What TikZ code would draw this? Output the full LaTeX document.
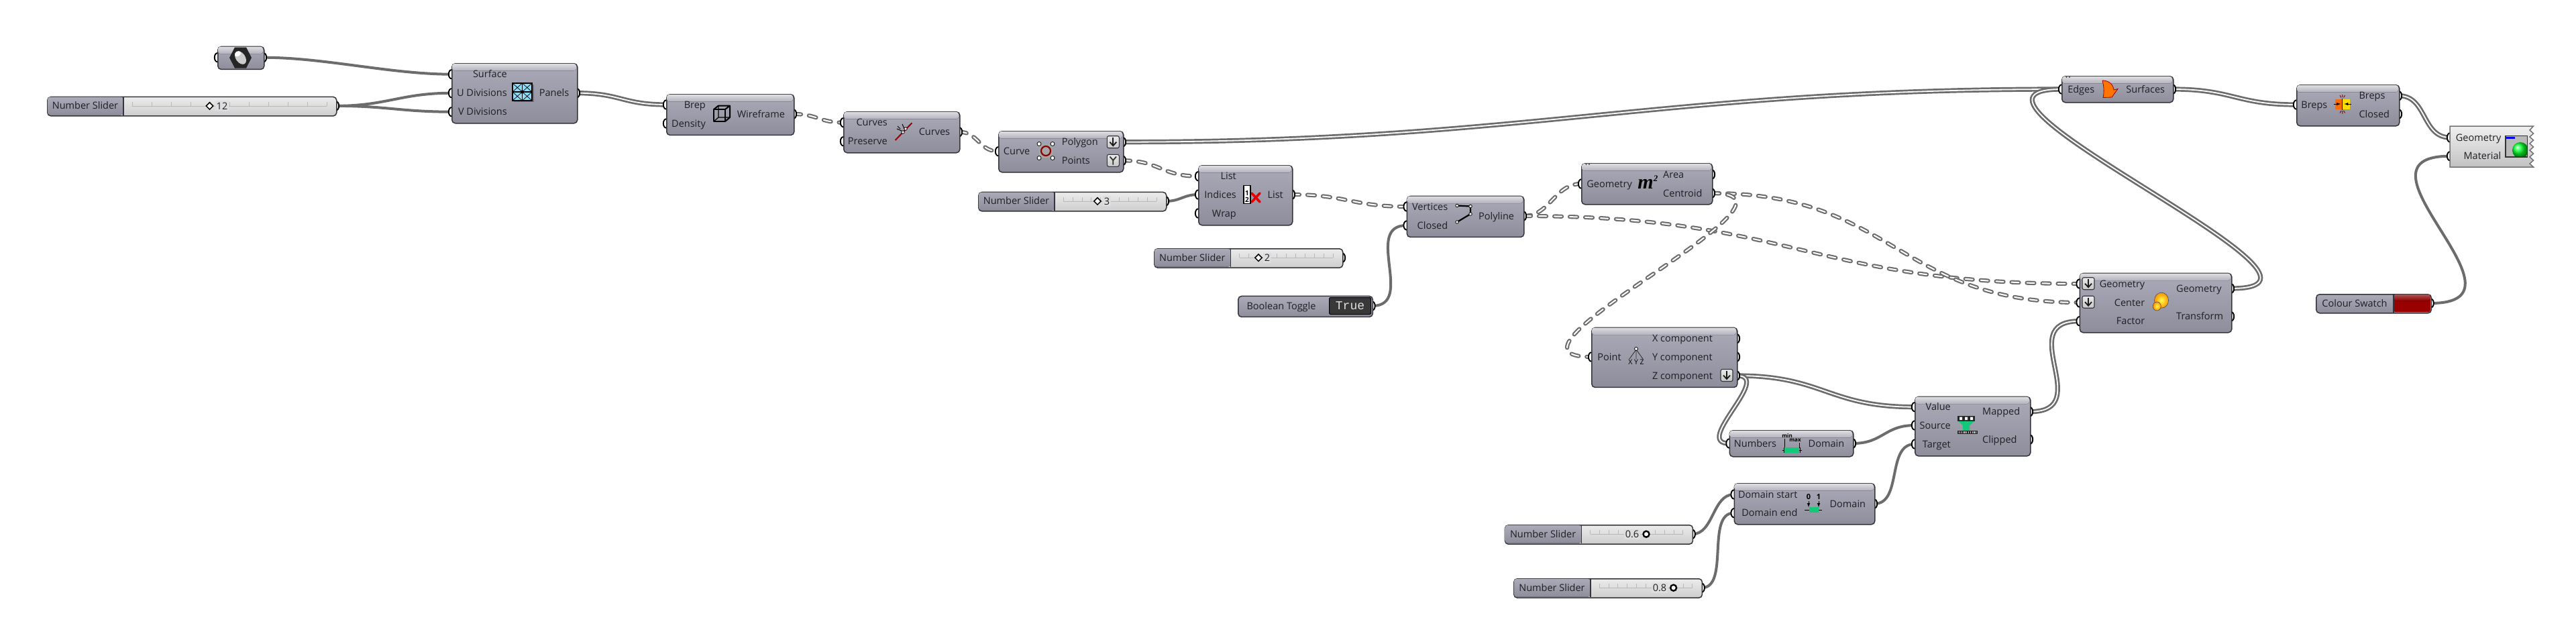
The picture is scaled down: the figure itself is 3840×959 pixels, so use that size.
\documentclass[tikz,border=0pt]{standalone}
\usepackage{fontspec}
\setmainfont{Open Sans}
\newfontfamily\mathicon{Liberation Serif}
\newfontfamily\togglefont{Liberation Mono}
\usetikzlibrary{shapes.geometric}
\pgfdeclarelayer{wirelayer}
\pgfsetlayers{wirelayer,main}
\definecolor{wirec}{HTML}{6C6C6C}
\definecolor{bodyA}{HTML}{ABAAB8}
\definecolor{bodyB}{HTML}{8E8D9B}
\definecolor{hdA}{HTML}{DEDEE2}
\definecolor{hdB}{HTML}{B2B1BD}
\definecolor{edgec}{HTML}{35353B}
\definecolor{txtc}{HTML}{1E1E24}
\definecolor{slA}{HTML}{ECECEC}
\definecolor{slB}{HTML}{CDCDCD}
\definecolor{slM}{HTML}{DEDEDE}
\definecolor{gbar}{HTML}{14C87A}
\tikzset{
 gbody/.style={draw=edgec,line width=1.5pt,rounded corners=5pt,top color=bodyA,bottom color=bodyB,inner sep=0pt,anchor=north west},
 itemwire/.style={draw=wirec,line width=4pt},
 listwire/.style={draw=wirec,line width=2.7pt,double=white,double distance=1.8pt},
 treewire/.style={draw=wirec,line width=2.1pt,double=white,double distance=2pt,dash pattern=on 11pt off 12pt,line cap=round},
 gport/.style={draw=black,line width=1.9pt,fill=white},
 txtbase/.style={font=\fontsize{14.5}{16}\selectfont,text=txtc,inner sep=0pt},
 gdia/.style={diamond,draw=black,line width=1.5pt,fill=white,minimum size=11pt,inner sep=0pt},
 gcir/.style={circle,draw=black,line width=2.4pt,fill=white,minimum size=9pt,inner sep=0pt},
 gnode/.style={circle,draw=black,line width=.8pt,fill=white,minimum size=5pt,inner sep=0pt},
 gbtn/.style={draw=edgec,line width=1.1pt,rounded corners=2.5pt,top color=white!92!black,bottom color=white!78!black},
 icontext/.style={font=\fontsize{8}{9}\bfseries\selectfont,text=black,inner sep=0pt},
}
\newcount\lcnt
\newcommand{\lin}[3]{\global\advance\lcnt by 1 \node[txtbase,anchor=base east] (t\the\lcnt) at (#1,{#2+5}) {#3};}
\newcommand{\lou}[3]{\global\advance\lcnt by 1 \node[txtbase,anchor=base west] (t\the\lcnt) at (#1,{#2+5}) {#3};}
\newcommand{\lmid}[3]{\global\advance\lcnt by 1 \node[txtbase,anchor=base] (t\the\lcnt) at (#1,{#2+5}) {#3};}
\newcommand{\port}[3]{\coordinate (#1) at (#2,#3); \draw[gport] (#2,#3) ellipse [x radius=4.2pt,y radius=6.6pt];}
\newcommand{\comp}[5]{%
 \pgfmathsetmacro\cw{#4-#2}\pgfmathsetmacro\ch{#5-#3}%
 \node[gbody,minimum width=\cw pt,minimum height=\ch pt] (#1) at (#2,#3) {};
 \fill[top color=hdA,bottom color=hdB,rounded corners=4pt] ({#2+.8},{#3+11.5}) |- ({#4-.8},{#3+.8}) -- ({#4-.8},{#3+11.5}) -- cycle;
}
\newcommand{\gslider}[9]{% name x1 y1 x2 split gripx textx value gripstyle
 \pgfmathsetmacro\cw{#4-#2}\pgfmathsetmacro\ymid{#3+14.2}\pgfmathsetmacro\yend{#3+28.4}%
 \pgfmathsetmacro\railA{#5+13}\pgfmathsetmacro\railB{#4-14}\pgfmathsetmacro\railS{(\railB-\railA)/10}%
 \port{#1}{#4}{\ymid}
 \node[draw=edgec,line width=1.5pt,rounded corners=5pt,top color=slA,bottom color=slB,inner sep=0pt,anchor=north west,minimum width=\cw pt,minimum height=28.4pt] (#1b) at (#2,#3) {};
 \fill[top color=bodyA,bottom color=bodyB,rounded corners=4pt] (#5,{#3+.8}) -| ({#2+.8},{\yend-.8}) -- (#5,{\yend-.8}) -- cycle;
 \draw[edgec,line width=1.1pt] (#5,#3) -- (#5,\yend);
 \lmid{{(#2+#5)/2}}{\ymid}{Number Slider}
 \draw[gray!55,line width=.6pt] (\railA,\ymid) -- (\railB,\ymid);
 \foreach \k in {0,...,10} {\draw[gray!55,line width=.6pt] ({\railA+\k*\railS},\ymid) -- ++(0,-6);}
 \node[txtbase,fill=slM,inner xsep=2pt,minimum height=15pt,anchor=center] (#1v) at (#7,\ymid) {#8};
 \node[#9] (#1g) at (#6,\ymid) {};
}
\newcommand{\gdown}[2]{%
 \draw[gbtn] ({#1-9},{#2-9}) rectangle ({#1+9},{#2+9});
 \draw[gray!20!black,line width=1.8pt] (#1,{#2-6.5}) -- (#1,{#2+5});
 \draw[gray!20!black,line width=1.8pt] ({#1-5},{#2}) -- (#1,{#2+5.5}) -- ({#1+5},{#2});
}
\newcommand{\wire}[4]{\draw[#1] (#2) .. controls +(#4,0) and +(-#4,0) .. (#3);}
\begin{document}
\begin{tikzpicture}[x=1pt,y=-1pt]
\useasboundingbox (0,0) rectangle (3840,959);

% Geometry parameter
\port{hexi}{324}{85.7}\port{hexo}{393}{85.7}
\comp{hex}{324}{68.7}{393}{102.7}
\fill[black!85] (342,86) -- (350,70.5) -- (367,70.5) -- (375,86) -- (367,101.5) -- (350,101.5) -- cycle;
\fill[white!80!black,rotate around={35:(358.5,86)}] (358.5,86) ellipse [x radius=7pt,y radius=11pt];
\fill[white,rotate around={35:(358.5,86)}] (358.5,79) ellipse [x radius=5pt,y radius=3.5pt];

% Slider 12
\gslider{sa}{70}{143.7}{501}{184}{312.5}{331}{12}{gdia}

% Panels
\port{pnS}{673}{110.7}\port{pnU}{673}{138.7}\port{pnV}{673}{166.7}\port{pnO}{860}{138.7}
\comp{panels}{673}{94}{860}{183}
\lin{756}{110.7}{Surface}\lin{756}{138.7}{U Divisions}\lin{756}{166.7}{V Divisions}\lou{803.6}{138.7}{Panels}
\fill[black,opacity=.25] (766,126) rectangle (796,152);
\fill[cyan!45!white] (764,124) rectangle (793,150);
\draw[black,line width=1.3pt] (764,124) rectangle (793,150) (778.5,124) -- (778.5,150) (764,137) -- (793,137);
\draw[black,line width=.7pt] (764,124) -- (778.5,137) (764,137) -- (778.5,124) (778.5,124) -- (793,137) (778.5,137) -- (793,124) (764,137) -- (778.5,150) (764,150) -- (778.5,137) (778.5,137) -- (793,150) (778.5,150) -- (793,137);
\fill[black] (778.5,137) circle (2.6pt);

% Wireframe
\port{wfB}{993}{156}\port{wfD}{993}{184}\port{wfO}{1183}{170}
\comp{wire}{993}{140}{1183}{200.7}
\lin{1052}{156}{Brep}\lin{1052}{184}{Density}\lou{1098.6}{170}{Wireframe}
\draw[black,line width=2pt,line join=round] (1064,163) rectangle (1081,181);
\draw[black,line width=2pt,line join=round] (1064,163) -- (1071,157.5) -- (1088,157.5) -- (1081,163) (1088,157.5) -- (1088,175) -- (1081,181);
\draw[black,line width=1.2pt] (1071,157.5) -- (1071,175) -- (1088,175) (1071,175) -- (1064,181);

% Reduce curves
\port{cvC}{1257}{182.7}\port{cvP}{1257}{210.7}\port{cvO}{1430}{196.7}
\comp{reduce}{1257}{166}{1430}{227}
\lin{1323}{182.7}{Curves}\lin{1323}{210.7}{Preserve}\lou{1369.6}{196.7}{Curves}
\draw[red!60!black,line width=2pt] (1334.6,209) -- (1359.4,183.3);
\draw[black,line width=1pt] (1337,192) -- (1344,195) (1345,185) -- (1348,192) (1338,188) -- (1342,192);
\node[gnode,minimum size=4.5pt] (rdA) at (1346,197) {};
\node[gnode,minimum size=4.5pt] (rdB) at (1350,192) {};

% Control polygon
\port{pgC}{1488}{225.7}\port{pgP}{1674}{211.7}\port{pgQ}{1674}{239.3}
\comp{polyg}{1488}{195}{1674}{256}
\lin{1535.5}{225.7}{Curve}\lou{1582.6}{211.7}{Polygon}\lou{1582.6}{239.3}{Points}
\fill[gray!70] (1549,215) rectangle (1569,235);
\draw[red!55!black,line width=2.2pt] (1559,225) circle (7pt);
\foreach \px/\py [count=\pi] in {1549/214.5,1569/214.5,1549/235.5,1569/235.5}{\node[gnode,minimum size=6pt] (pgn\pi) at (\px,\py) {};}
\gdown{1659.3}{211.7}
\draw[gbtn] (1650.3,230.3) rectangle (1668.3,248.3);
\draw[gray!40!black,line width=1.8pt] (1654.5,233.5) -- (1659.3,239) -- (1664,233.5) (1659.3,239) -- (1659.3,245.5);

% Slider 3
\gslider{sb}{1458}{285.7}{1738}{1572}{1636}{1650}{3}{gdia}

% List item
\port{liL}{1786}{262.7}\port{liI}{1786}{290}\port{liW}{1786}{318}\port{liO}{1926}{290}
\comp{listitem}{1786}{246}{1926}{335}
\lin{1843}{262.7}{List}\lin{1843}{290}{Indices}\lin{1843}{318}{Wrap}\lou{1889.4}{290}{List}
\draw[black,fill=white,line width=1.2pt] (1854,276.5) rectangle (1864,303.5);
\node[icontext,font=\fontsize{10}{10}\bfseries\selectfont] (li1) at (1859,288) {1};
\node[icontext,font=\fontsize{10}{10}\bfseries\selectfont] (li2) at (1859,297.5) {2};
\draw[red!90!black,line width=3.6pt,line cap=round] (1866,288) -- (1878,301) (1878,288) -- (1866,301);

% Slider 2
\gslider{sc}{1720}{370}{2001}{1834.6}{1876}{1889}{2}{gdia}

% Boolean toggle
\port{btO}{2045.5}{456}
\node[gbody,minimum width=200.5pt,minimum height=31pt] (toggle) at (1845,440.7) {};
\lmid{1910}{456}{Boolean Toggle}
\node[draw=black,line width=1pt,rounded corners=2pt,fill=black!78,minimum width=62pt,minimum height=25pt,inner sep=0pt,text=white!88!black,font=\togglefont\fontsize{18}{18}\selectfont] (toggleval) at (2012.5,456) {True};

% Polyline
\port{plV}{2096.6}{308}\port{plC}{2096.6}{336}\port{plO}{2271}{322}
\comp{polyl}{2096.6}{291.7}{2271}{352.7}
\lin{2158.4}{308}{Vertices}\lin{2158.4}{336}{Closed}\lou{2204}{322}{Polyline}
\draw[black,line width=2.2pt] (2172,306.5) -- (2192,307.5) -- (2192,319) -- (2172,331);
\foreach \px/\py [count=\pi] in {2172/306.5,2192/307.5,2192/319,2172/331}{\node[gnode,minimum size=4.5pt] (pln\pi) at (\px,\py) {};}

% Area
\port{arG}{2357}{274}\port{arA}{2552}{260}\port{arC}{2552}{288}
\comp{area}{2357}{243}{2552}{304}
\lin{2433}{274}{Geometry}\lou{2479}{260}{Area}\lou{2479}{288}{Centroid}
\node[inner sep=0pt,text=black,font=\mathicon\fontsize{30}{30}\bfseries\itshape\selectfont] (arm) at (2453,274) {m};
\node[inner sep=0pt,text=black,font=\mathicon\fontsize{13}{13}\bfseries\itshape\selectfont] (arm2) at (2468,266) {2};
\fill[black!70] (2364.5,245) circle (1.2pt) (2369,245) circle (1.2pt);

% Deconstruct
\port{dcP}{2372}{532}\port{dcX}{2589}{504.7}\port{dcY}{2589}{532}\port{dcZ}{2589}{560}
\comp{decon}{2372}{487.7}{2589}{576.7}
\lin{2416.8}{532}{Point}\lou{2462.8}{504.7}{X component}\lou{2462.8}{532}{Y component}\lou{2462.8}{560}{Z component}
\draw[black!80,line width=.9pt] (2439,521) -- (2429,535) (2439,521) -- (2439,535) (2439,521) -- (2449,535);
\node[gnode,minimum size=5pt] (dcn) at (2439,520) {};
\node[inner sep=0pt,text=black,font=\fontsize{10.5}{11}\selectfont] (dcxyz) at (2439,540) {X Y Z};
\gdown{2574}{559.5}

% Remap
\port{rmV}{2854}{606.7}\port{rmS}{2854}{634}\port{rmT}{2854}{662}\port{rmM}{3026}{613.7}\port{rmC}{3026}{655}
\comp{remap}{2854}{590.7}{3026}{679}
\lin{2908}{606.7}{Value}\lin{2908}{634}{Source}\lin{2908}{662}{Target}\lou{2955}{613.7}{Mapped}\lou{2955}{655}{Clipped}
\fill[gbar] (2918,627) -- (2944,627) -- (2936,634) -- (2936,642) -- (2926,642) -- (2926,634) -- cycle;
\fill[black!85] (2918,620) rectangle (2944,627.5);
\fill[white] (2921,621.5) rectangle (2925,626) (2929,621.5) rectangle (2933,626) (2937,621.5) rectangle (2941,626);
\fill[black!85] (2918,641.7) rectangle (2948,647);
\foreach \k in {0,...,9}{\fill[white!80!black] ({2920+\k*2.8},643) rectangle ++(1.2,2.8);}

% Bounds
\port{bdN}{2577.5}{661}\port{bdO}{2762}{661}
\comp{bounds}{2577.5}{641}{2762}{680}
\lin{2648.3}{661}{Numbers}\lou{2695.5}{661}{Domain}
\node[icontext] (bdmin) at (2664,649) {min};
\node[icontext] (bdmax) at (2676,656) {max};
\draw[black,line width=.9pt] (2660,654) -- (2660,668) (2682,660) -- (2682,668) (2656.5,671) -- (2685.5,671);
\fill[gbar] (2660,667) rectangle (2682,674.5);
\draw[black,line width=1pt] (2659,667) -- (2659,675) (2683,667) -- (2683,675);

% Construct domain
\port{cdS}{2584.6}{737}\port{cdE}{2584.6}{764.7}\port{cdO}{2794}{751}
\comp{domain}{2584.6}{720}{2794}{781}
\lin{2679.6}{737}{Domain start}\lin{2679.6}{764.7}{Domain end}\lou{2727.4}{751}{Domain}
\node[icontext,font=\fontsize{11}{11}\bfseries\selectfont] (cd0) at (2696,741) {0};
\node[icontext,font=\fontsize{11}{11}\bfseries\selectfont] (cd1) at (2711,741) {1};
\draw[black,line width=1pt,-latex] (2696,747) -- (2696,756);
\draw[black,line width=1pt,-latex] (2711,747) -- (2711,756);
\draw[black,line width=1pt] (2690,760) -- (2716,760);
\fill[gbar] (2697,756) rectangle (2711,764);

% Sliders 0.6, 0.8
\gslider{sd}{2242.7}{782}{2522.7}{2357.5}{2454}{2433}{0.6}{gcir}
\gslider{se}{2256}{862}{2536.7}{2371}{2494.6}{2474}{0.8}{gcir}

% Boundary surfaces
\port{bsE}{3073}{133}\port{bsO}{3239}{133}
\comp{bsurf}{3073}{113}{3239}{152}
\lin{3122.4}{133}{Edges}\lou{3169.2}{133}{Surfaces}
\fill[orange!90!red,draw=red!60!black,line width=.8pt] (3134,120) .. controls (3144,120) and (3150,126) .. (3151,134) -- (3157,132.5) -- (3148,145) -- (3135,145.5) .. controls (3137,136) and (3136,128) .. (3134,120);
\fill[black!70] (3080.5,115) circle (1.2pt) (3085,115) circle (1.2pt);

% Cap holes
\port{chI}{3423}{156}\port{chB}{3576}{142.7}\port{chC}{3576}{170}
\comp{cap}{3423}{126}{3576}{187}
\lin{3469.5}{156}{Breps}\lou{3516.3}{142.7}{Breps}\lou{3516.3}{170}{Closed}
\fill[orange!85!red] (3480.5,148) rectangle (3491.5,162.5);
\fill[yellow!80!orange] (3492,148) rectangle (3503,162.5);
\draw[black,line width=1.1pt] (3491.8,147) -- (3491.8,163.5);
\draw[black,line width=1pt,-latex] (3479,155) -- (3489,155);
\draw[black,line width=1pt,-latex] (3505,155) -- (3494.5,155);
\draw[red!50!black,line width=.9pt] (3491.8,141) -- (3491.8,145) (3488,142) -- (3490,145.5) (3495.6,142) -- (3493.6,145.5) (3491.8,165) -- (3491.8,169.5) (3488,168.5) -- (3490,165) (3495.6,168.5) -- (3493.6,165);

% Custom preview
\port{cpG}{3652}{205}\port{cpM}{3652}{232.7}
\draw[draw=edgec!70,line width=1.5pt,top color=white!94!black,bottom color=white!76!black,rounded corners=2pt] (3652,191) -- (3652,245.5) [rounded corners=0pt] -- (3652,249) -- (3776.5,249) -- (3771,244) -- (3776.5,239) -- (3771,234) -- (3776.5,229) -- (3771,224) -- (3776.5,219) -- (3771,214) -- (3776.5,209) -- (3771,204) -- (3776.5,199) -- (3771,194) -- (3776.5,188) -- (3652,188) -- cycle;
\node[txtbase,anchor=base east] (cpt1) at (3728.5,210) {Geometry};
\node[txtbase,anchor=base east] (cpt2) at (3728.5,237.7) {Material};
\begin{scope}
\clip (3735,202.5) rectangle (3767.5,234);
\fill[gray!55] (3735,202.5) rectangle (3767.5,234);
\shade[ball color=green!85!cyan] (3757,224) circle (12pt);
\end{scope}
\draw[black!80,line width=1.4pt] (3735,202.5) rectangle (3767.5,234);
\fill[blue!90!black] (3736,203.5) rectangle (3749,207);

% Scale
\port{scG}{3099.6}{423}\port{scC}{3099.6}{451}\port{scF}{3099.6}{478.7}\port{scO}{3326}{430}\port{scT}{3326}{471.7}
\comp{scale}{3099.6}{406.7}{3326}{495}
\lin{3197.4}{423}{Geometry}\lin{3197.4}{451}{Center}\lin{3197.4}{478.7}{Factor}\lou{3244}{430}{Geometry}\lou{3244}{471.7}{Transform}
\gdown{3113}{422.7}
\gdown{3113}{450.2}
\shade[draw=black!70,line width=.6pt,inner color=yellow!70!white,outer color=orange!85!yellow] (3222,447.7) ellipse [x radius=10.5pt,y radius=11.5pt];
\shade[draw=black!70,line width=.6pt,inner color=yellow!70!white,outer color=orange!85!yellow] (3215.3,456.5) ellipse [x radius=6pt,y radius=6.5pt];

% Colour swatch
\port{csO}{3623.6}{452}
\node[gbody,minimum width=171.6pt,minimum height=28pt] (swatch) at (3452,438) {};
\lmid{3510}{452}{Colour Swatch}
\fill[red!60!black,rounded corners=3pt] (3568,438.8) -| (3622.8,465.2) -- (3568,465.2) -- cycle;
\fill[top color=red!30!gray,bottom color=red!60!black,rounded corners=3pt] (3568,448) |- (3622.8,438.8) -- (3622.8,448) -- cycle;
\draw[edgec,line width=1.1pt] (3568,438) -- (3568,466);

% Wires
\begin{pgfonlayer}{wirelayer}
\fill[white] (0,0) rectangle (3840,959);
\wire{itemwire}{hexo}{pnS}{90}
\wire{itemwire}{sa}{pnU}{75}
\wire{itemwire}{sa}{pnV}{75}
\wire{listwire}{pnO}{wfB}{65}
\wire{treewire}{wfO}{cvC}{35}
\wire{treewire}{cvO}{pgC}{28}
\wire{treewire}{pgQ}{liL}{55}
\wire{listwire}{pgP}{bsE}{600}
\wire{itemwire}{sb}{liI}{22}
\wire{treewire}{liO}{plV}{80}
\wire{itemwire}{btO}{plC}{65}
\wire{treewire}{plO}{arG}{40}
\wire{treewire}{plO}{scG}{400}
\wire{treewire}{arC}{scC}{270}
\wire{treewire}{arC}{dcP}{175}
\wire{listwire}{dcZ}{rmV}{130}
\wire{listwire}{dcZ}{bdN}{55}
\wire{itemwire}{bdO}{rmS}{45}
\wire{itemwire}{cdO}{rmT}{42}
\wire{itemwire}{sd}{cdS}{32}
\wire{itemwire}{se}{cdE}{42}
\wire{listwire}{rmM}{scF}{100}
\wire{listwire}{scO}{bsE}{220}
\wire{listwire}{bsO}{chI}{90}
\wire{listwire}{chB}{cpG}{42}
\wire{itemwire}{csO}{cpM}{165}
\end{pgfonlayer}
\end{tikzpicture}
\end{document}
